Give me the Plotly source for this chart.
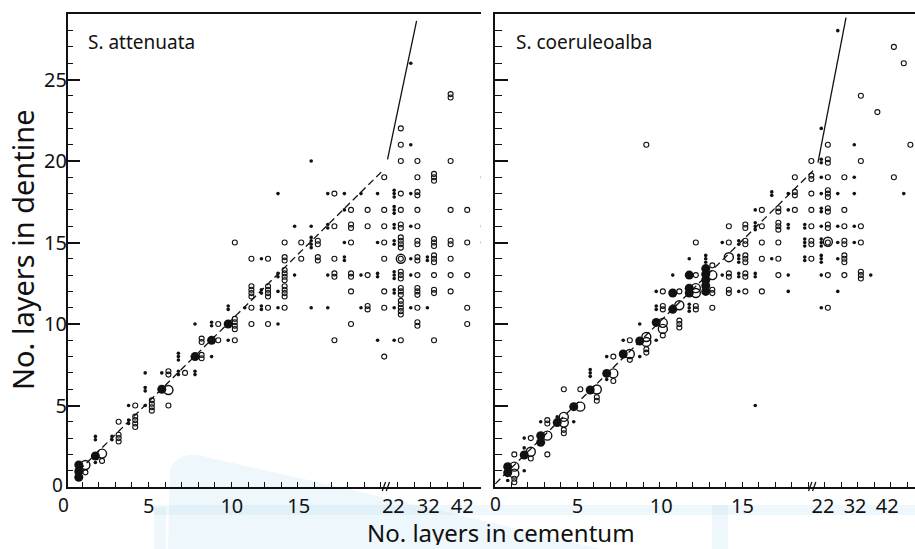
import plotly.graph_objects as go

# ---------------- data ----------------
# Each point: (layers in cementum, layers in dentine, number of stacked readings)
# Cementum counts above 20 are drawn on the compressed scale beyond the axis break.

# ---- S. attenuata ----
att_big_filled = [(1, 1.35), (1, 0.95), (1, 0.6), (2, 1.9), (6, 6.0), (8, 8.0), (9, 9.0), (10, 10.0)]
att_big_open = [(1, 1.35), (2, 2.05), (6, 5.95), (22, 14.0)]
att_small_filled = [
    (1, 1, 2), (2, 3, 2), (2, 1.5, 1), (3, 3, 2), (4, 5, 1), (4, 4, 2),
    (5, 5, 1), (5, 6, 2), (5, 7, 1), (6, 7, 1), (7, 8, 3), (7, 7, 2),
    (8, 10, 1), (8, 7, 2), (9, 10, 2), (9, 8, 1), (10, 11, 2), (10, 9, 1),
    (11, 11, 1), (12, 14, 1), (12, 12, 2), (12, 11, 2), (13, 13, 2), (13, 12, 1),
    (13, 11, 1), (13, 10, 1), (13, 18, 1), (14, 16, 1), (14, 13, 1), (15, 20, 1),
    (15, 16, 1), (15, 15, 4), (15, 11, 1), (16, 18, 1), (16, 16, 2), (16, 13, 1),
    (16, 11, 1), (17, 18, 1), (17, 17, 1), (17, 15, 1), (17, 14, 2), (18, 18, 1),
    (18, 13, 1), (18, 11, 1), (19, 18, 1), (19, 15, 1), (19, 13, 2), (19, 9, 1),
    (22, 18, 3), (22, 17, 3), (22, 16, 2), (22, 15, 2), (22, 13, 3), (22, 12, 2),
    (22, 11, 1), (22, 9, 1), (27, 26, 1), (27, 21, 1), (27, 18, 1), (27, 16, 1),
    (27, 14, 1), (27, 13, 1), (27, 11, 1), (32, 14, 2), (32, 11, 1),
]
att_small_open = [
    (1, 0.9, 1), (2, 1.6, 1), (3, 3, 3), (3, 4, 1), (4, 5, 1), (4, 4, 4),
    (5, 5, 4), (6, 7, 2), (6, 5, 1), (7, 7, 1), (8, 9, 2), (8, 8, 2),
    (9, 9, 1), (9, 10, 1), (10, 10, 4), (10, 9, 1), (10, 15, 1),
    (11, 14, 1), (11, 12, 4), (11, 11, 1), (11, 10, 1),
    (12, 14, 1), (12, 12, 4), (12, 11, 1), (12, 10, 1),
    (13, 15, 1), (13, 14, 2), (13, 13, 4), (13, 12, 4), (13, 11, 1),
    (14, 15, 1), (14, 14, 1), (15, 15, 2), (15, 14, 2),
    (16, 18, 1), (16, 16, 1), (16, 14, 1), (16, 13, 2), (16, 9, 1),
    (17, 17, 1), (17, 16, 2), (17, 15, 1), (17, 13, 2), (17, 12, 1), (17, 10, 1),
    (18, 17, 1), (18, 16, 1), (18, 13, 1), (18, 11, 2),
    (19, 19, 1), (19, 17, 1), (19, 16, 1), (19, 15, 1), (19, 14, 1), (19, 12, 1),
    (19, 11, 1), (19, 8, 1),
    (22, 22, 1), (22, 21, 1), (22, 20, 1), (22, 18, 1), (22, 17, 1), (22, 16, 2),
    (22, 15, 4), (22, 14, 1), (22, 13, 3), (22, 12, 3), (22, 11, 5), (22, 9, 1),
    (27, 20, 1), (27, 19, 1), (27, 18, 2), (27, 17, 1), (27, 16, 1), (27, 15, 2),
    (27, 14, 2), (27, 13, 1), (27, 12, 3), (27, 11, 1), (27, 10, 2),
    (32, 19, 3), (32, 15, 3), (32, 14, 3), (32, 13, 1), (32, 12, 2), (32, 9, 1),
    (37, 24, 2), (37, 20, 1), (37, 17, 1), (37, 15, 2), (37, 14, 1), (37, 13, 1), (37, 12, 1),
    (42, 17, 1), (42, 15, 1), (42, 13, 1), (42, 11, 1), (42, 10, 1),
    (47, 19, 1), (47, 16, 1), (47, 15, 1),
]
# fitted lines (axis units after the break compression)
att_dash_x = [0.8, 19.2]
att_dash_y = [1.0, 19.5]
att_solid_x = [19.4, 21.15]
att_solid_y = [20.1, 28.6]

# ---- S. coeruleoalba ----
coe_big_filled = [
    (1, 1.25), (1, 0.88), (2, 1.96), (3, 3.15), (3, 2.74), (4, 3.95), (5, 4.93),
    (6, 5.95), (7, 6.97), (8, 8.16), (9, 8.96), (10, 10.1), (11, 10.9), (11, 11.9),
    (12, 13.0), (12, 12.2), (12, 11.9), (13, 13.4), (13, 13.05), (13, 12.7),
    (13, 12.35), (13, 12.0),
]
coe_big_open = [
    (1, 1.25), (1, 0.82), (2, 2.16), (3, 3.15), (4, 4.3), (4, 3.95), (5, 4.93),
    (6, 5.98), (7, 6.97), (8, 8.16), (9, 9.2), (9, 8.9), (10, 10.07), (10, 9.7),
    (11, 11.15), (12, 12.2), (12, 11.9), (13, 13.0), (14, 14.1), (22, 15.05),
]
coe_small_filled = [
    (1, 0.4, 1), (2, 1, 1), (2, 2.4, 1), (2, 3, 1), (3, 4, 1), (4, 4.3, 1),
    (5, 4, 1), (6, 7, 3), (7, 8, 1), (7, 6.6, 1), (8, 9, 1), (9, 8, 1), (9, 10, 1),
    (10, 11, 2), (10, 9, 1), (10, 12, 1), (11, 11, 2), (11, 13, 1),
    (12, 11, 3), (12, 14, 1), (13, 14, 3), (14, 15, 1), (14, 13, 1),
    (15, 15, 2), (15, 14, 3), (15, 13, 2), (15, 12, 1),
    (16, 17, 1), (16, 16, 3), (16, 13, 2), (16, 5, 1),
    (17, 18, 2), (17, 14, 1), (18, 18, 1), (18, 17, 1), (18, 16, 2), (18, 13, 1), (18, 12, 1),
    (19, 16, 2), (19, 15, 3), (19, 14, 2),
    (22, 22, 1), (22, 20, 2), (22, 19, 1), (22, 18, 1), (22, 17, 2), (22, 16, 1),
    (22, 15, 3), (22, 14, 3), (22, 13, 1), (22, 11, 1),
    (27, 28, 1), (27, 18, 1), (27, 16, 1), (27, 15, 1), (27, 14, 1), (27, 12, 1),
    (32, 21, 1), (32, 19, 1), (32, 18, 1), (32, 16, 1), (32, 15, 1),
    (37, 13, 1), (47, 18, 1),
]
coe_small_open = [
    (1, 2, 1), (1, 0.4, 2), (2, 3, 1), (2, 1.75, 1), (3, 4, 2), (3, 2, 1),
    (4, 3.4, 2), (4, 6, 1), (5, 6, 1), (6, 5.4, 2), (7, 8, 1), (7, 6.5, 1),
    (8, 9, 1), (8, 7.8, 1), (9, 8.35, 2), (9, 21, 1),
    (10, 12, 1), (10, 11, 2), (10, 9.3, 1), (11, 12, 1), (11, 10, 3),
    (12, 15, 1), (12, 13, 1), (12, 11, 2), (13, 12, 2), (13, 11, 1), (13, 13.6, 1),
    (14, 16, 1), (14, 15, 1), (14, 13, 2), (14, 12, 2),
    (15, 16, 2), (15, 15, 2), (15, 14, 3), (15, 13, 2), (15, 12, 1),
    (16, 17, 1), (16, 16, 1), (16, 15, 1), (16, 14, 1), (16, 12, 1),
    (17, 17, 2), (17, 16, 3), (17, 15, 1), (17, 14, 1), (17, 13, 1),
    (18, 19, 1), (18, 18, 2), (18, 17, 1),
    (19, 20, 1), (19, 19, 2), (19, 18, 1), (19, 17, 1), (19, 16, 1), (19, 15, 2), (19, 14, 1),
    (22, 21, 1), (22, 20, 2), (22, 19, 1), (22, 18, 3), (22, 17, 2), (22, 16, 2),
    (22, 15, 1), (22, 13, 1), (22, 11, 1),
    (27, 19, 1), (27, 17, 1), (27, 16, 1), (27, 15, 2), (27, 14, 3), (27, 13, 1),
    (32, 24, 1), (32, 20, 1), (32, 16, 1), (32, 15, 1), (32, 13, 3),
    (37, 23, 1), (42, 27, 1), (42, 19, 1), (45, 26, 1), (47, 21, 1),
]
coe_dash_x = [0.05, 19.3]
coe_dash_y = [0.2, 19.4]
coe_solid_x = [19.6, 21.3]
coe_solid_y = [19.9, 28.8]

# tick labels
x_tick_text = ["5", "10", "15", "22", "32", "42"]
att_x_tick_pos = [5.02, 10.02, 14.05, 19.75, 21.85, 23.9]
coe_x_tick_pos = [5.02, 10.1, 15.02, 19.9, 21.85, 23.8]
y_tick_vals = [0, 5, 10, 15, 20, 25]
y_label_vals = [5, 10, 15, 20, 25]
break_pos = {"x": 19.3, "x2": 19.25}

# ---------------- helpers ----------------
INK = "#111111"
FILLED_SHIFT = -0.2
OPEN_SHIFT = 0.2
STACK_STEP = 0.21


def cem_pos(c):
    """Position on the broken cementum axis (5 layers per unit beyond 22)."""
    return c if c <= 20 else 20 + (c - 22) / 5.0


def expand(points, shift):
    xs, ys = [], []
    for c, d, n in points:
        for i in range(n):
            xs.append(cem_pos(c) + shift)
            ys.append(d + (i - (n - 1) / 2.0) * STACK_STEP)
    return xs, ys


def single(points, shift):
    return [cem_pos(c) + shift for c, _ in points], [d for _, d in points]


fig = go.Figure()


def add_panel(xa, ya, big_f, big_o, sm_f, sm_o, dx, dy, sx, sy):
    fig.add_trace(go.Scatter(x=dx, y=dy, mode="lines", xaxis=xa, yaxis=ya,
                             line=dict(color=INK, width=1.3, dash="7px,4px"), hoverinfo="skip"))
    fig.add_trace(go.Scatter(x=sx, y=sy, mode="lines", xaxis=xa, yaxis=ya,
                             line=dict(color=INK, width=1.3), hoverinfo="skip"))
    x, y = expand(sm_o, OPEN_SHIFT)
    fig.add_trace(go.Scatter(x=x, y=y, mode="markers", xaxis=xa, yaxis=ya,
                             marker=dict(symbol="circle-open", size=5, color=INK, line=dict(width=1.1, color=INK))))
    x, y = expand(sm_f, FILLED_SHIFT)
    fig.add_trace(go.Scatter(x=x, y=y, mode="markers", xaxis=xa, yaxis=ya,
                             marker=dict(symbol="circle", size=3.6, color=INK)))
    x, y = single(big_o, OPEN_SHIFT)
    fig.add_trace(go.Scatter(x=x, y=y, mode="markers", xaxis=xa, yaxis=ya,
                             marker=dict(symbol="circle-open", size=9, color=INK, line=dict(width=1.4, color=INK))))
    x, y = single(big_f, FILLED_SHIFT)
    fig.add_trace(go.Scatter(x=x, y=y, mode="markers", xaxis=xa, yaxis=ya,
                             marker=dict(symbol="circle", size=9, color=INK)))


add_panel("x", "y", att_big_filled, att_big_open, att_small_filled, att_small_open,
          att_dash_x, att_dash_y, att_solid_x, att_solid_y)
add_panel("x2", "y2", coe_big_filled, coe_big_open, coe_small_filled, coe_small_open,
          coe_dash_x, coe_dash_y, coe_solid_x, coe_solid_y)

W, H = 915, 549
FONT = "Noto Sans"
ydom = [62 / H, 535 / H]

common_x = dict(showline=True, linewidth=2, linecolor=INK, mirror=True, showgrid=False,
                zeroline=False, ticks="inside", ticklen=5, tickwidth=1.3,
                tickcolor="rgba(0,0,0,0)", tickmode="array", ticktext=x_tick_text,
                ticklabelstandoff=0,
                tickfont=dict(size=20, family=FONT, color=INK),
                minor=dict(tickmode="array", tickvals=list(range(1, 26)), ticks="inside",
                           ticklen=5, tickwidth=1.3, tickcolor=INK))

fig.update_layout(
    width=W, height=H, margin=dict(l=0, r=0, t=0, b=0),
    paper_bgcolor="white", plot_bgcolor="rgba(0,0,0,0)", showlegend=False,
    font=dict(family=FONT, color=INK),
    xaxis=dict(domain=[68 / W, 481 / W], range=[0.15, 25.03], anchor="y",
               tickvals=att_x_tick_pos, **common_x),
    xaxis2=dict(domain=[495 / W, 1.0], range=[0.03, 25.48], anchor="y2",
                tickvals=coe_x_tick_pos, **common_x),
    yaxis=dict(domain=ydom, range=[0, 29.02], anchor="x", showline=True, linewidth=2,
               linecolor=INK, showgrid=False, zeroline=False, tickmode="array",
               tickvals=y_label_vals, ticks="inside", ticklen=12, tickwidth=1.5, tickcolor=INK,
               ticklabelstandoff=-5,
               tickfont=dict(size=20, family=FONT, color=INK),
               minor=dict(dtick=1, tick0=0, ticks="inside", ticklen=5, tickwidth=1.2, tickcolor=INK)),
    yaxis2=dict(domain=ydom, range=[0, 29.02], anchor="x2", showline=True, linewidth=2,
                linecolor=INK, showgrid=False, zeroline=False, tickmode="array",
                tickvals=y_tick_vals, ticks="inside", ticklen=13, tickwidth=1.5, tickcolor=INK,
                showticklabels=False,
                minor=dict(dtick=1, tick0=0, ticks="inside", ticklen=7, tickwidth=1.2, tickcolor=INK)),
)

zero_font = dict(size=19, family=FONT, color=INK)
ann = [
    dict(text="No. layers in dentine", xref="paper", yref="paper", x=22 / W, y=1 - 250 / H,
         textangle=-90, showarrow=False, font=dict(size=29, family=FONT, color=INK),
         xanchor="center", yanchor="middle"),
    dict(text="No. layers in cementum", xref="paper", yref="paper", x=501 / W, y=1 - 532 / H,
         showarrow=False, font=dict(size=24, family=FONT, color=INK),
         xanchor="center", yanchor="middle", height=26, borderpad=0),
    dict(text="S. attenuata", xref="paper", yref="paper", x=86 / W, y=1 - 42 / H,
         showarrow=False, font=dict(size=19, family=FONT, color=INK), xanchor="left", yanchor="middle"),
    dict(text="S. coeruleoalba", xref="paper", yref="paper", x=514 / W, y=1 - 42 / H,
         showarrow=False, font=dict(size=19, family=FONT, color=INK), xanchor="left", yanchor="middle"),
    # y-axis zero label
    dict(text="0", xref="paper", yref="paper", x=57 / W, y=1 - 484 / H, showarrow=False,
         font=zero_font, xanchor="center", yanchor="middle", height=17, borderpad=0),
    # x-axis zero labels
    dict(text="0", xref="paper", yref="paper", x=63 / W, y=1 - 505 / H, showarrow=False,
         font=zero_font, xanchor="center", yanchor="middle", height=17, borderpad=0),
    dict(text="0", xref="paper", yref="paper", x=496 / W, y=1 - 503 / H, showarrow=False,
         font=zero_font, xanchor="center", yanchor="middle", height=17, borderpad=0),
]
fig.update_layout(annotations=ann)

# axis-break marks "//" on both cementum axes
for xa, xb in break_pos.items():
    for dx in (-0.12, 0.12):
        fig.add_shape(type="line", xref=xa, yref="paper", layer="above",
                      x0=xb + dx - 0.1, x1=xb + dx + 0.1, y0=1 - 491 / H, y1=1 - 482 / H,
                      line=dict(color=INK, width=1.3))

# faint watermark of the scanned page
wm = "rgba(200,228,241,0.3)"


def px(x, y):
    return f"{x / W:.4f},{1 - y / H:.4f}"


fig.add_shape(type="path", xref="paper", yref="paper", layer="below", line=dict(width=0), fillcolor=wm,
              path=f"M {px(168, 549)} L {px(170, 470)} Q {px(178, 448)} {px(210, 458)} "
                   f"Q {px(400, 500)} {px(600, 549)} Z")
fig.add_shape(type="rect", xref="paper", yref="paper", layer="below", line=dict(width=0), fillcolor=wm,
              x0=154 / W, x1=166 / W, y0=0, y1=1 - 507 / H)
fig.add_shape(type="rect", xref="paper", yref="paper", layer="below", line=dict(width=0), fillcolor=wm,
              x0=154 / W, x1=1.0, y0=1 - 515 / H, y1=1 - 505 / H)
fig.add_shape(type="rect", xref="paper", yref="paper", layer="below", line=dict(width=0), fillcolor=wm,
              x0=712 / W, x1=728 / W, y0=0, y1=1 - 505 / H)

fig.write_html("out.html", config={"displayModeBar": False},
               post_script="document.body.style.margin='0';")
